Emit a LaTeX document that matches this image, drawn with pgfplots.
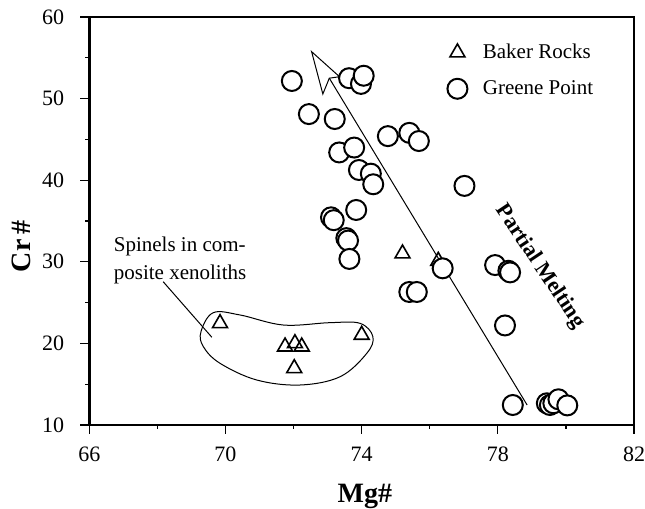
\documentclass[border=0pt]{standalone}
\usepackage{fontspec}
\setmainfont{Liberation Serif}
\usepackage{pgfplots}
\pgfplotsset{compat=1.18}
\begin{document}
\begin{tikzpicture}
\begin{axis}[
 scale only axis, width=272.35pt, height=204pt,
 xmin=66, xmax=82, ymin=10, ymax=60,
 xtick={66,70,74,78,82}, ytick={10,20,...,60},
 minor xtick={68,72,76,80}, minor ytick={15,25,35,45,55},
 tick align=outside, xtick pos=bottom, ytick pos=left,
 major tick length=4.5pt, minor tick length=2pt,
 every tick/.style={black, line width=0.6pt},
 axis line style={line width=0.6pt},
 tick label style={font=\fontsize{11}{13}\selectfont},
 yticklabel style={xshift=-4.5pt},
 xticklabel style={yshift=-3pt},
 /pgf/number format/assume math mode=true,
 xlabel={Mg\#}, ylabel={Cr\,\#},
 label style={font=\fontsize{14}{16}\selectfont\bfseries},
 xlabel style={at={(axis description cs:0.506,-0.1904)}, anchor=base},
 ylabel style={at={(axis description cs:-0.1254,0.4375)}, anchor=center},
 legend image code/.code={\draw[#1] plot coordinates {(0cm,0cm)}; \path (-0.3cm,0cm) (0.37cm,0cm);},
 legend style={draw=none, fill=none, at={(axis description cs:0.632,0.955)}, anchor=north west, font=\fontsize{10.5}{12}\selectfont, row sep=5.5pt},
 legend cell align=left,
 clip=false,
]
% partial melting arrow
\draw[line width=0.5pt] (axis cs:78.86,12.45) -- (axis cs:73.05,52.5);
\draw[line width=0.5pt] (axis cs:72.53,55.75) -- (axis cs:72.86,50.56) -- (axis cs:73.05,52.5) -- (axis cs:73.35,52.68) -- cycle;
% enclosing curve
\draw[line width=0.5pt] plot[smooth cycle, tension=0.6] coordinates {
 (axis cs:69.28,21.43) (axis cs:69.64,23.76) (axis cs:70.43,23.48) (axis cs:71.70,22.25)
 (axis cs:73.07,22.54) (axis cs:73.95,22.46) (axis cs:74.33,20.83) (axis cs:74.15,18.78)
 (axis cs:73.37,15.92) (axis cs:72.19,14.90) (axis cs:70.92,15.51) (axis cs:69.84,17.56)
 (axis cs:69.35,19.60)};
\draw[line width=0.5pt] (axis cs:68.17,27.56) -- (axis cs:69.60,20.75);

\addplot[only marks, mark=triangle, mark size=4.3pt, mark options={fill=white, line width=0.8pt}] coordinates {
 (69.84,22.46) (71.75,19.6) (72.04,20.0) (72.24,19.6) (72.02,16.95) (74.0,21.03) (75.2,31.0) (76.25,30.1)};
\addlegendentry{Baker Rocks}
\addplot[only marks, mark=*, mark size=5pt, mark options={fill=white, line width=1pt}] coordinates {
 (71.95,52.16) (73.63,52.5) (73.98,51.8) (74.06,52.8) (72.45,48.1) (73.21,47.5)
 (74.77,45.4) (75.40,45.8) (75.68,44.8) (73.34,43.4) (73.78,44.0) (73.92,41.25)
 (74.27,40.8) (74.34,39.5) (77.02,39.3) (73.84,36.35) (73.10,35.45) (73.18,35.1)
 (73.55,32.9) (73.60,32.6) (73.64,30.35) (76.38,29.2) (75.40,26.3) (75.62,26.3)
 (77.92,29.6) (78.31,28.9) (78.36,28.7) (78.21,22.2) (78.44,12.45) (79.44,12.66)
 (79.53,12.45) (79.63,12.66) (79.78,13.15) (80.04,12.4)};
\addlegendentry{Greene Point}

\node[anchor=base west, font=\fontsize{10.5}{12}\selectfont, inner sep=0pt] at (axis cs:66.71,31.24) {Spinels in com-};
\node[anchor=base west, font=\fontsize{10.5}{12}\selectfont, inner sep=0pt] at (axis cs:66.71,27.81) {posite xenoliths};
\node[rotate=-56.3, font=\fontsize{11}{13}\selectfont\bfseries] at (axis cs:79.24,29.4) {Partial Melting};

\draw[line width=1.3pt] (rel axis cs:0,1) -- (rel axis cs:0,0) -- (rel axis cs:1,0);
\end{axis}
\pgfresetboundingbox
\path ([shift={(-44.65pt,-42pt)}]current axis.south west) rectangle ([shift={(5.5pt,8.5pt)}]current axis.north east);
\end{tikzpicture}
\end{document}
